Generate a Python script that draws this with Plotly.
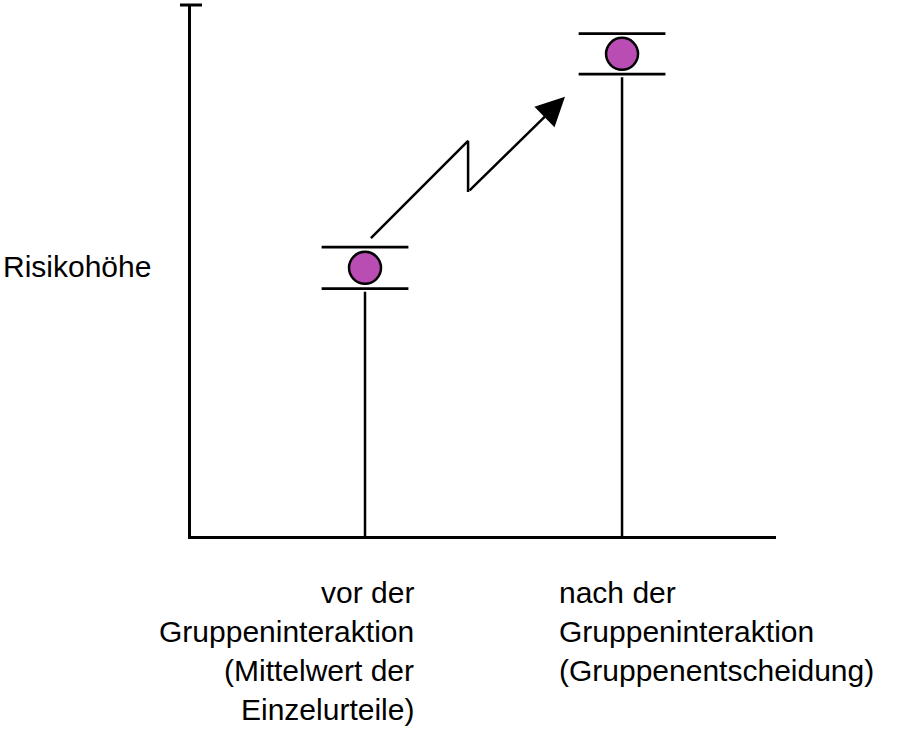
import plotly.graph_objects as go

# ---- data ----
categories_lines = [
    ["vor der", "Gruppeninteraktion", "(Mittelwert der", "Einzelurteile)"],
    ["nach der", "Gruppeninteraktion", "(Gruppenentscheidung)"],
]
cat_x = [1, 2]
risk = [50.5, 90.8]
spread = [3.9, 3.8]
y_label = "Risikohöhe"

FONT = "Liberation Sans, Arial, sans-serif"
FS = 30
MAGENTA = "#b94db3"

fig = go.Figure()

# stems from baseline to the lower cap
stem_x, stem_y = [], []
for x, v, s in zip(cat_x, risk, spread):
    stem_x += [x, x, None]
    stem_y += [0, v - s - 0.6, None]
fig.add_trace(go.Scatter(x=stem_x, y=stem_y, mode="lines",
                         line=dict(color="black", width=2.5),
                         hoverinfo="skip", showlegend=False))

# caps (upper and lower bars)
cap_x, cap_y = [], []
for x, v, s in zip(cat_x, risk, spread):
    cap_x += [x, x]
    cap_y += [v + s, v - s]
fig.add_trace(go.Scatter(x=cap_x, y=cap_y, mode="markers",
                         marker=dict(symbol="line-ew", size=62,
                                     line=dict(color="black", width=2.8)),
                         hoverinfo="skip", showlegend=False))

# points
fig.add_trace(go.Scatter(x=cat_x, y=risk, mode="markers",
                         marker=dict(size=32, color=MAGENTA,
                                     line=dict(color="black", width=2.5)),
                         hoverinfo="skip", showlegend=False))

# zigzag arrow between the two points (fractions of the span)
x1, x2 = cat_x
y1, y2 = risk
fx = [0.023, 0.401, 0.401, 0.778]
fy = [0.139, 0.593, 0.355, 0.799]
ax_ = [x1 + f * (x2 - x1) for f in fx]
ay_ = [y1 + f * (y2 - y1) for f in fy]
fig.add_trace(go.Scatter(x=ax_[:3], y=ay_[:3], mode="lines",
                         line=dict(color="black", width=2.5),
                         hoverinfo="skip", showlegend=False))
fig.add_annotation(x=ax_[3], y=ay_[3], ax=ax_[2], ay=ay_[2],
                   xref="x", yref="y", axref="x", ayref="y",
                   text="", showarrow=True, arrowhead=2, arrowsize=2.3,
                   arrowwidth=2.5, arrowcolor="black", standoff=0)

# category labels, one annotation per line
line_shifts = [-56, -95, -134, -173]
for i, (x, lines) in enumerate(zip(cat_x, categories_lines)):
    for j, txt in enumerate(lines):
        fig.add_annotation(x=x, y=0, xref="x", yref="paper",
                           text=txt, showarrow=False,
                           xanchor="right" if i == 0 else "left",
                           xshift=51 if i == 0 else -65,
                           yanchor="middle", yshift=line_shifts[j],
                           font=dict(family=FONT, size=FS, color="black"))

# y label
fig.add_annotation(x=0, y=0.507, xref="paper", yref="paper",
                   text=y_label, showarrow=False, xanchor="left",
                   xshift=-190, yanchor="middle",
                   font=dict(family=FONT, size=FS, color="black"))

# top tick of the y axis
fig.add_shape(type="line", xref="paper", yref="paper",
              xsizemode="pixel", xanchor=0, x0=-11, x1=11, y0=1, y1=1,
              line=dict(color="black", width=3))

fig.update_xaxes(range=[0.323, 2.599], showgrid=False, zeroline=False,
                 showticklabels=False, ticks="", showline=True,
                 linecolor="black", linewidth=3)
fig.update_yaxes(range=[0, 100], showgrid=False, zeroline=False,
                 showticklabels=False, ticks="", showline=True,
                 linecolor="black", linewidth=3)

fig.update_layout(width=909, height=734,
                  margin=dict(l=191, r=133, t=5, b=198),
                  plot_bgcolor="white", paper_bgcolor="white",
                  font=dict(family=FONT))

fig.write_html("out.html",
               config={"displayModeBar": False},
               post_script="document.body.style.margin='0px';")
